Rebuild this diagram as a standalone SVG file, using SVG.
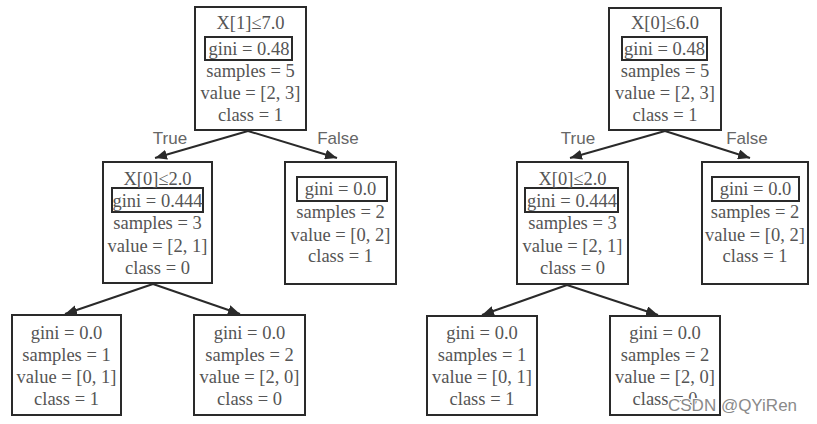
<svg xmlns="http://www.w3.org/2000/svg" width="817" height="424" viewBox="0 0 817 424">
<defs>
<marker id="ah" viewBox="0 0 12 10" refX="12" refY="5" markerWidth="12" markerHeight="10" markerUnits="userSpaceOnUse" orient="auto">
<path d="M0,0 L12,5 L0,10 Z" fill="#2a2a2a"/>
</marker>
<style>
.box{fill:#fff;stroke:#2a2a2a;stroke-width:2}
.gb{fill:none;stroke:#2a2a2a;stroke-width:2}
.t{font-family:"Liberation Serif","Times New Roman",serif;font-size:18.5px;fill:#555;text-anchor:middle}
.lbl{font-family:"Liberation Sans",Arial,sans-serif;font-size:17px;fill:#666;text-anchor:middle}
.e{stroke:#2a2a2a;stroke-width:2;fill:none;marker-end:url(#ah)}
.wm{font-family:"Liberation Sans",Arial,sans-serif;font-size:17px;fill:#8a8a8a;stroke:#fff;stroke-width:2;paint-order:stroke}
</style>
</defs>
<rect width="817" height="424" fill="#fff"/>
<g id="connectors">
<line class="e" x1="248" y1="131" x2="155" y2="158"/>
<line class="e" x1="248" y1="131" x2="337" y2="158"/>
<line class="e" x1="153" y1="284" x2="65" y2="314"/>
<line class="e" x1="153" y1="284" x2="240" y2="314"/>
<line class="e" x1="665" y1="131" x2="570" y2="158"/>
<line class="e" x1="665" y1="131" x2="750" y2="158"/>
<line class="e" x1="567" y1="285" x2="482" y2="315"/>
<line class="e" x1="567" y1="285" x2="658" y2="315"/>
<text class="lbl" x="170" y="144">True</text>
<text class="lbl" x="338" y="144">False</text>
<text class="lbl" x="578" y="144">True</text>
<text class="lbl" x="747" y="144">False</text>
</g>
<g id="L-root">
<rect class="box" x="195" y="7" width="111" height="123"/>
<rect class="gb" x="205" y="37" width="87" height="23"/>
<text class="t" x="250.5" y="29">X[1]≤7.0</text>
<text class="t" x="249" y="54.5">gini = 0.48</text>
<text class="t" x="250.5" y="76.5">samples = 5</text>
<text class="t" x="250.5" y="98.5">value = [2, 3]</text>
<text class="t" x="250.5" y="121">class = 1</text>
</g>
<g id="L-left">
<rect class="box" x="103" y="162" width="109" height="121"/>
<rect class="gb" x="112" y="188" width="91" height="24"/>
<text class="t" x="157.5" y="185">X[0]≤2.0</text>
<text class="t" x="157.5" y="206.5">gini = 0.444</text>
<text class="t" x="157.5" y="229">samples = 3</text>
<text class="t" x="157.5" y="252">value = [2, 1]</text>
<text class="t" x="157.5" y="274">class = 0</text>
</g>
<g id="L-right">
<rect class="box" x="285" y="162" width="111" height="122"/>
<rect class="gb" x="297" y="177" width="90" height="24"/>
<text class="t" x="340.5" y="195">gini = 0.0</text>
<text class="t" x="340.5" y="218">samples = 2</text>
<text class="t" x="340.5" y="240.5">value = [0, 2]</text>
<text class="t" x="340.5" y="262">class = 1</text>
</g>
<g id="L-ll">
<rect class="box" x="12" y="315" width="109" height="100"/>
<text class="t" x="66.5" y="339">gini = 0.0</text>
<text class="t" x="66.5" y="361">samples = 1</text>
<text class="t" x="66.5" y="383">value = [0, 1]</text>
<text class="t" x="66.5" y="404.5">class = 1</text>
</g>
<g id="L-lr">
<rect class="box" x="194" y="315" width="111" height="100"/>
<text class="t" x="249.5" y="339">gini = 0.0</text>
<text class="t" x="249.5" y="361">samples = 2</text>
<text class="t" x="249.5" y="383">value = [2, 0]</text>
<text class="t" x="249.5" y="404.5">class = 0</text>
</g>
<g id="R-root">
<rect class="box" x="609" y="8" width="112" height="122"/>
<rect class="gb" x="622" y="37" width="85" height="23"/>
<text class="t" x="665" y="29">X[0]≤6.0</text>
<text class="t" x="664.5" y="54.5">gini = 0.48</text>
<text class="t" x="665" y="76.5">samples = 5</text>
<text class="t" x="665" y="98.5">value = [2, 3]</text>
<text class="t" x="665" y="121">class = 1</text>
</g>
<g id="R-left">
<rect class="box" x="517" y="162" width="111" height="122"/>
<rect class="gb" x="525" y="188" width="93" height="24"/>
<text class="t" x="572.5" y="185">X[0]≤2.0</text>
<text class="t" x="572" y="206.5">gini = 0.444</text>
<text class="t" x="572.5" y="229">samples = 3</text>
<text class="t" x="572.5" y="252">value = [2, 1]</text>
<text class="t" x="572.5" y="274">class = 0</text>
</g>
<g id="R-right">
<rect class="box" x="702" y="162" width="106" height="122"/>
<rect class="gb" x="712" y="177" width="87" height="24"/>
<text class="t" x="755.5" y="195">gini = 0.0</text>
<text class="t" x="755" y="218">samples = 2</text>
<text class="t" x="755" y="240.5">value = [0, 2]</text>
<text class="t" x="755" y="262">class = 1</text>
</g>
<g id="R-ll">
<rect class="box" x="427" y="316" width="110" height="99"/>
<text class="t" x="482" y="339">gini = 0.0</text>
<text class="t" x="482" y="361">samples = 1</text>
<text class="t" x="482" y="383">value = [0, 1]</text>
<text class="t" x="482" y="404.5">class = 1</text>
</g>
<g id="R-lr">
<rect class="box" x="610" y="316" width="110" height="99"/>
<text class="t" x="665" y="339">gini = 0.0</text>
<text class="t" x="665" y="361">samples = 2</text>
<text class="t" x="665" y="383">value = [2, 0]</text>
<text class="t" x="665" y="404.5">class = 0</text>
</g>
<text class="wm" x="668" y="411">CSDN @QYiRen</text>
</svg>
